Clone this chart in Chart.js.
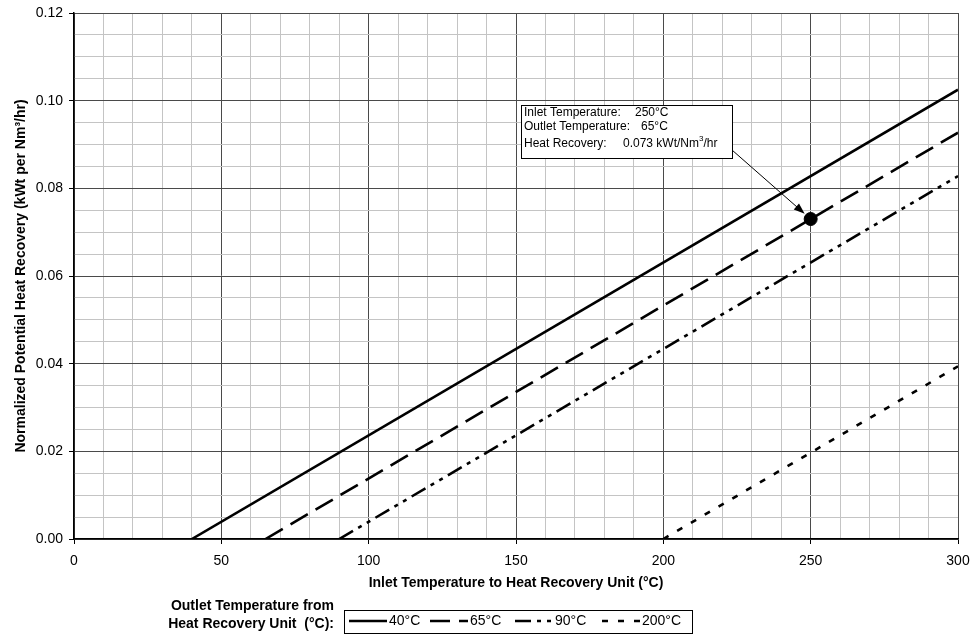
<!DOCTYPE html>
<html>
<head>
<meta charset="utf-8">
<script src="https://cdn.jsdelivr.net/npm/chart.js@4.4.1/dist/chart.umd.min.js"></script>
<style>
  html, body { margin: 0; padding: 0; background: #fff; }
  #wrap { position: relative; width: 974px; height: 634px; }
</style>
</head>
<body>
<div id="wrap"><canvas id="heatChart"></canvas></div>
<script>
/************ DATA ************/
const outletLabels = ["40°C", "65°C", "90°C", "200°C"];
const inletStart = [40, 65, 90, 200];
const recoveryStart = [0, 0, 0, 0];
const inletEnd = [300, 300, 300, 300];
const recoveryEnd = [0.1025, 0.0927, 0.0828, 0.0394];

const xTickLabels = [0, 50, 100, 150, 200, 250, 300];
const yTickLabels = [0, 0.02, 0.04, 0.06, 0.08, 0.10, 0.12];

const calloutInlet = 250;
const calloutOutlet = 65;
const calloutRecovery = 0.073;

/************ STYLE ************/
const FONT = "'Liberation Sans', Arial, Helvetica, sans-serif";
const lineDashes = [[], [20, 9], [16, 6, 4, 6, 4, 6], [6, 10]];
const MAJOR_GRID = "#4a4a4a";
const MINOR_GRID = "#c4c4c4";

function isMajor(v, list) {
  return list.some(t => Math.abs(t - v) < 1e-9);
}

/************ DATASETS ************/
const lineSets = outletLabels.map((lab, i) => ({
  label: lab,
  data: [
    { x: inletStart[i], y: recoveryStart[i] },
    { x: inletEnd[i], y: recoveryEnd[i] }
  ],
  showLine: true,
  borderColor: "#000",
  borderWidth: 2.6,
  borderDash: lineDashes[i],
  pointRadius: 0,
  tension: 0,
  order: 1
}));

const pointSet = {
  label: "callout",
  data: [{ x: calloutInlet, y: calloutRecovery }],
  pointRadius: 6.5,
  pointBackgroundColor: "#000",
  pointBorderColor: "#000",
  showLine: false,
  order: 0
};

/************ CALLOUT + LEGEND ************/
const overlayPlugin = {
  id: "overlay",
  afterDraw(chart) {
    const ctx = chart.ctx;
    const xs = chart.scales.x;
    const ys = chart.scales.y;
    ctx.save();

    // callout box
    const bx = 521, by = 105, bw = 211, bh = 53;
    ctx.fillStyle = "#fff";
    ctx.fillRect(bx, by, bw, bh);
    ctx.strokeStyle = "#000";
    ctx.lineWidth = 1;
    ctx.strokeRect(bx + 0.5, by + 0.5, bw, bh);

    const smallFont = "12px Arial, 'Liberation Sans', sans-serif";
    ctx.fillStyle = "#000";
    ctx.textBaseline = "middle";
    ctx.textAlign = "left";
    ctx.font = smallFont;
    ctx.fillText("Inlet Temperature:", bx + 3, 113);
    ctx.fillText(calloutInlet + "°C", 635, 113);
    ctx.fillText("Outlet Temperature:", bx + 3, 127);
    ctx.fillText(calloutOutlet + "°C", 641, 127);
    ctx.fillText("Heat Recovery:", bx + 3, 144);
    let tx = 623;
    const part1 = calloutRecovery.toFixed(3) + " kWt/Nm";
    ctx.fillText(part1, tx, 144);
    tx += ctx.measureText(part1).width;
    ctx.font = "8px Arial, 'Liberation Sans', sans-serif";
    ctx.fillText("3", tx, 139);
    tx += ctx.measureText("3").width;
    ctx.font = smallFont;
    ctx.fillText("/hr", tx, 144);

    // arrow to the point
    const px = xs.getPixelForValue(calloutInlet);
    const py = ys.getPixelForValue(calloutRecovery);
    const sx = bx + bw, sy = 150;
    const dx = px - sx, dy = py - sy;
    const len = Math.sqrt(dx * dx + dy * dy);
    const ux = dx / len, uy = dy / len;
    const ex = px - ux * 8, ey = py - uy * 8;
    ctx.beginPath();
    ctx.moveTo(sx, sy);
    ctx.lineTo(ex - ux * 8, ey - uy * 8);
    ctx.stroke();
    ctx.beginPath();
    ctx.moveTo(ex, ey);
    ctx.lineTo(ex - ux * 11 - uy * 4, ey - uy * 11 + ux * 4);
    ctx.lineTo(ex - ux * 11 + uy * 4, ey - uy * 11 - ux * 4);
    ctx.closePath();
    ctx.fill();

    // legend
    ctx.font = "bold 14px " + FONT;
    ctx.textAlign = "right";
    ctx.fillText("Outlet Temperature from", 334, 606);
    ctx.fillText("Heat Recovery Unit  (°C):", 334, 624);

    ctx.strokeRect(344.5, 610.5, 348, 23);
    const segStart = [349, 430, 515, 602];
    ctx.font = "14px " + FONT;
    ctx.textAlign = "left";
    lineSets.forEach((ds, i) => {
      ctx.save();
      ctx.lineWidth = 2.6;
      ctx.setLineDash(ds.borderDash);
      ctx.beginPath();
      ctx.moveTo(segStart[i], 621);
      ctx.lineTo(segStart[i] + 38, 621);
      ctx.stroke();
      ctx.restore();
      ctx.fillText(ds.label, segStart[i] + 40, 621);
    });

    ctx.restore();
  }
};

/************ CHART ************/
const ctxChart = document.getElementById("heatChart").getContext("2d");

new Chart(ctxChart, {
  type: "scatter",
  data: { datasets: [pointSet, ...lineSets] },
  options: {
    responsive: true,
    maintainAspectRatio: false,
    animation: false,
    layout: { padding: { top: 13, right: 16, left: 0, bottom: 0 } },
    plugins: {
      legend: { display: false },
      tooltip: { enabled: false }
    },
    scales: {
      x: {
        type: "linear",
        min: 0,
        max: 300,
        afterFit: s => {
          s.height = 95;
          s.paddingLeft = 0;
          s.paddingRight = 0;
        },
        ticks: {
          stepSize: 10,
          autoSkip: false,
          maxRotation: 0,
          padding: 9,
          color: "#000",
          font: { family: FONT, size: 14 },
          callback: v => isMajor(v, xTickLabels) ? String(v) : ""
        },
        grid: {
          color: c => (c.tick && isMajor(c.tick.value, xTickLabels)) ? MAJOR_GRID : MINOR_GRID,
          lineWidth: 1,
          tickLength: 5,
          tickColor: c => (c.tick && isMajor(c.tick.value, xTickLabels)) ? "#000" : "rgba(0,0,0,0)"
        },
        border: { color: "#000", width: 1.5 },
        title: {
          display: true,
          text: "Inlet Temperature to Heat Recovery Unit (°C)",
          color: "#000",
          font: { family: FONT, size: 14, weight: "bold" },
          padding: { top: 0, bottom: 42 }
        }
      },
      y: {
        type: "linear",
        min: 0,
        max: 0.12,
        afterFit: s => {
          s.width = 74;
          s.paddingTop = 0;
          s.paddingBottom = 0;
        },
        ticks: {
          stepSize: 0.005,
          maxTicksLimit: 100,
          autoSkip: false,
          padding: 6,
          color: "#000",
          font: { family: FONT, size: 14 },
          callback: v => isMajor(v, yTickLabels) ? v.toFixed(2) : ""
        },
        grid: {
          color: c => (c.tick && isMajor(c.tick.value, yTickLabels)) ? MAJOR_GRID : MINOR_GRID,
          lineWidth: 1,
          tickLength: 5,
          tickColor: c => (c.tick && isMajor(c.tick.value, yTickLabels)) ? "#000" : "rgba(0,0,0,0)"
        },
        border: { color: "#000", width: 1.5 },
        title: {
          display: true,
          text: "Normalized Potential Heat Recovery (kWt per Nm³/hr)",
          color: "#000",
          font: { family: FONT, size: 14, weight: "bold" },
          padding: { top: 13, bottom: 0 }
        }
      }
    }
  },
  plugins: [overlayPlugin]
});
</script>
</body>
</html>
